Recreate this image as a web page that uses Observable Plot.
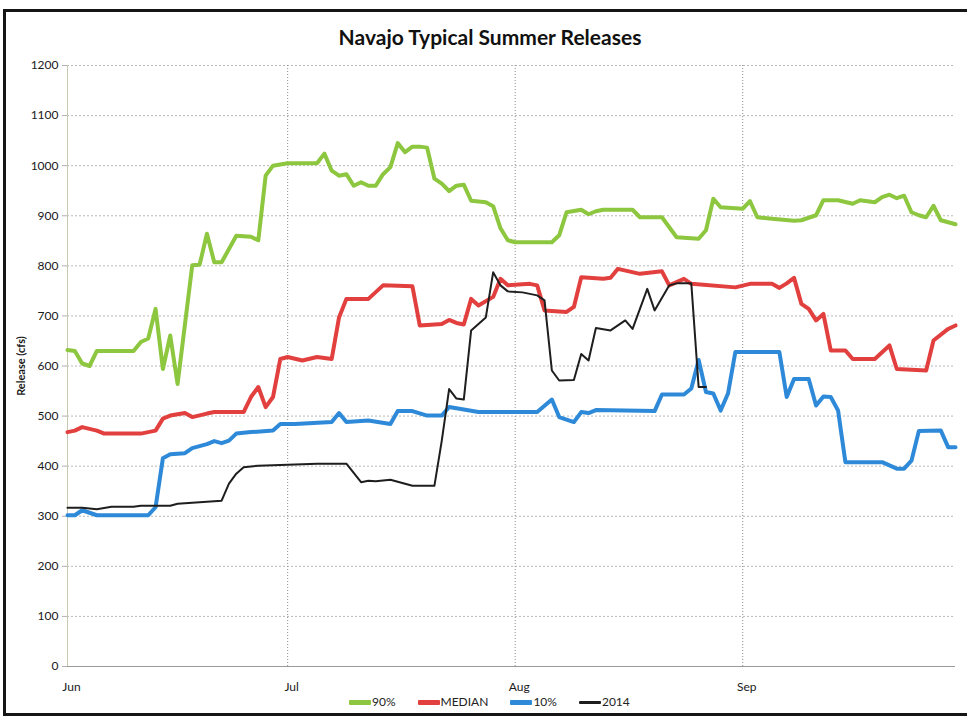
<!DOCTYPE html>
<html>
<head>
<meta charset="utf-8">
<script src="https://cdn.jsdelivr.net/npm/d3@7"></script>
<script src="https://cdn.jsdelivr.net/npm/@observablehq/plot@0.6"></script>
<style>
  html, body { margin: 0; padding: 0; background: #fff; overflow: hidden; width: 967px; height: 724px; }
  #frame { position: absolute; left: 3px; top: 9px; width: 990px; height: 707px; border: 3px solid #151515; border-right: none; box-sizing: border-box; z-index: 0; }
  #title { position: absolute; left: 0; top: 22px; width: 980px; text-align: center; font: bold 21px Lato, sans-serif; color: #111; line-height: 30px; z-index: 1; }
  #chart { position: absolute; left: 0; top: 50px; z-index: 1; }
  #legend { position: absolute; left: 349px; top: 694px; display: flex; align-items: center; font: 12px Lato, sans-serif; color: #222; line-height: 16px; z-index: 2; background: #fff; }
  #legend .item { display: flex; align-items: center; margin-right: 22px; }
  #legend .sw { display: inline-block; width: 22px; margin-right: 1px; border-radius: 1px; }
</style>
</head>
<body>
<div id="frame"></div>
<div id="title">Navajo Typical Summer Releases</div>
<div id="chart"></div>
<div id="legend"></div>
<script>
// ---- data (month-day, cfs) ----
const p90 = [["06-01",632],["06-02",630],["06-03",605],["06-04",600],["06-05",630],["06-10",630],["06-11",648],["06-12",655],["06-13",714],["06-14",594],["06-15",661],["06-16",564],["06-18",801],["06-19",802],["06-20",864],["06-21",807],["06-22",807],["06-24",860],["06-26",858],["06-27",851],["06-28",980],["06-29",1000],["07-01",1005],["07-05",1005],["07-06",1024],["07-07",990],["07-08",980],["07-09",983],["07-10",960],["07-11",967],["07-12",960],["07-13",960],["07-14",983],["07-15",997],["07-16",1045],["07-17",1027],["07-18",1038],["07-19",1038],["07-20",1036],["07-21",974],["07-22",964],["07-23",949],["07-24",960],["07-25",962],["07-26",930],["07-28",927],["07-29",919],["07-30",875],["07-31",851],["08-01",847],["08-06",847],["08-07",861],["08-08",907],["08-10",912],["08-11",903],["08-12",909],["08-13",912],["08-17",912],["08-18",897],["08-21",897],["08-23",857],["08-26",854],["08-27",871],["08-28",934],["08-29",917],["09-01",914],["09-02",929],["09-03",897],["09-05",894],["09-08",890],["09-09",891],["09-11",901],["09-12",931],["09-14",931],["09-16",924],["09-17",931],["09-19",927],["09-20",937],["09-21",942],["09-22",935],["09-23",940],["09-24",907],["09-25",901],["09-26",897],["09-27",920],["09-28",891],["09-30",883]];

const median = [["06-01",468],["06-02",471],["06-03",478],["06-05",471],["06-06",465],["06-11",465],["06-13",471],["06-14",495],["06-15",501],["06-17",506],["06-18",498],["06-20",505],["06-21",508],["06-25",508],["06-26",538],["06-27",558],["06-28",518],["06-29",538],["06-30",614],["07-01",618],["07-03",611],["07-05",618],["07-07",614],["07-08",697],["07-09",734],["07-12",734],["07-14",761],["07-18",759],["07-19",681],["07-22",684],["07-23",692],["07-24",686],["07-25",683],["07-26",734],["07-27",721],["07-29",738],["07-30",774],["07-31",761],["08-03",764],["08-04",761],["08-05",711],["08-08",708],["08-09",718],["08-10",777],["08-13",774],["08-14",776],["08-15",794],["08-18",784],["08-21",789],["08-22",761],["08-24",774],["08-25",764],["08-31",757],["09-02",764],["09-05",764],["09-06",756],["09-07",765],["09-08",776],["09-09",724],["09-10",714],["09-11",691],["09-12",704],["09-13",631],["09-15",631],["09-16",614],["09-19",614],["09-21",641],["09-22",594],["09-26",591],["09-27",651],["09-29",674],["09-30",681]];

const p10 = [["06-01",302],["06-02",302],["06-03",312],["06-05",302],["06-12",302],["06-13",318],["06-14",416],["06-15",424],["06-17",426],["06-18",436],["06-20",444],["06-21",450],["06-22",446],["06-23",451],["06-24",465],["06-26",468],["06-29",471],["06-30",484],["07-02",484],["07-07",488],["07-08",506],["07-09",488],["07-12",491],["07-15",484],["07-16",510],["07-18",510],["07-20",501],["07-22",501],["07-23",518],["07-27",508],["08-04",508],["08-06",533],["08-07",498],["08-09",488],["08-10",508],["08-11",506],["08-12",512],["08-20",510],["08-21",543],["08-24",543],["08-25",555],["08-26",612],["08-27",548],["08-28",545],["08-29",511],["08-30",545],["08-31",628],["09-06",628],["09-07",538],["09-08",574],["09-10",574],["09-11",521],["09-12",539],["09-13",538],["09-14",511],["09-15",408],["09-20",408],["09-22",395],["09-23",395],["09-24",411],["09-25",470],["09-28",471],["09-29",438],["09-30",438]];

const y2014 = [["06-01",317],["06-03",317],["06-05",314],["06-07",319],["06-10",319],["06-11",321],["06-15",321],["06-16",325],["06-19",328],["06-22",331],["06-23",365],["06-24",385],["06-25",398],["06-27",401],["07-05",405],["07-09",405],["07-11",368],["07-12",371],["07-13",370],["07-15",373],["07-18",361],["07-21",361],["07-22",451],["07-23",554],["07-24",535],["07-25",533],["07-26",671],["07-27",684],["07-28",697],["07-29",787],["07-30",761],["07-31",749],["08-02",747],["08-04",741],["08-05",731],["08-06",591],["08-07",571],["08-09",572],["08-10",624],["08-11",611],["08-12",676],["08-14",671],["08-16",691],["08-17",674],["08-19",754],["08-20",711],["08-22",761],["08-23",765],["08-25",765],["08-26",558],["08-27",558]];

const seriesNames = ["90%", "MEDIAN", "10%", "2014"];
const seriesData = [p90, median, p10, y2014];
const seriesColors = ["#8dc63f", "#e2403f", "#2e8ad8", "#1e1e1e"];
const seriesWidths = [4, 4, 4, 2];
const monthTickLabels = ["2014-06-01", "2014-07-01", "2014-08-01", "2014-09-01"];
const yTicks = [0,100,200,300,400,500,600,700,800,900,1000,1100,1200];

// ---- build table ----
const parse = d3.utcParse("%Y-%m-%d");
const rows = seriesData.flatMap((arr, i) => arr.map(([md, v]) => ({series: seriesNames[i], date: parse("2014-" + md), value: v})));
const monthTicks = monthTickLabels.map(parse);

const chart = Plot.plot({
  width: 967,
  height: 647,
  marginLeft: 67,
  marginRight: 12,
  marginTop: 15,
  marginBottom: 31,
  style: {fontFamily: "Lato, sans-serif", fontSize: "12px", color: "#1a1a1a", background: "transparent", overflow: "visible"},
  x: {type: "utc", domain: [parse("2014-06-01"), parse("2014-09-30")]},
  y: {domain: [0, 1200]},
  marks: [
    Plot.gridY(yTicks.slice(1), {stroke: "#b8b8b8", strokeOpacity: 1, strokeDasharray: "2,2"}),
    Plot.gridX(monthTicks.slice(1), {stroke: "#8c8c8c", strokeOpacity: 1, strokeDasharray: "1,2"}),
    Plot.ruleX([monthTicks[0]], {stroke: "#c8c8b0"}),
    Plot.ruleY([0], {stroke: "#9a9a9a"}),
    Plot.axisY(yTicks, {tickSize: 5, tickPadding: 4, tickFormat: d => String(d), stroke: "#b0b0b0", fill: "#1a1a1a",
      label: "Release (cfs)", labelAnchor: "center", labelArrow: "none", labelOffset: 50}),
    Plot.axisX(monthTicks, {tickSize: 0, tickPadding: 16, dx: 4, tickFormat: d3.utcFormat("%b"), fill: "#1a1a1a", label: null}),
    ...seriesNames.map((name, i) => Plot.line(rows.filter(r => r.series === name), {
      x: "date", y: "value", stroke: seriesColors[i], strokeWidth: seriesWidths[i],
      strokeLinejoin: "round", strokeLinecap: "round"
    }))
  ]
});
document.getElementById("chart").appendChild(chart);
const yl = chart.querySelector('[aria-label="y-axis label"]');
if (yl) { yl.style.fontWeight = "bold"; yl.style.fontSize = "11px"; }

// ---- legend ----
const legend = document.getElementById("legend");
seriesNames.forEach((name, i) => {
  const item = document.createElement("span");
  item.className = "item";
  const sw = document.createElement("span");
  sw.className = "sw";
  sw.style.background = seriesColors[i];
  sw.style.height = (i === 3 ? 3 : 5) + "px";
  const lab = document.createElement("span");
  lab.textContent = name;
  item.appendChild(sw);
  item.appendChild(lab);
  legend.appendChild(item);
});
</script>
</body>
</html>
